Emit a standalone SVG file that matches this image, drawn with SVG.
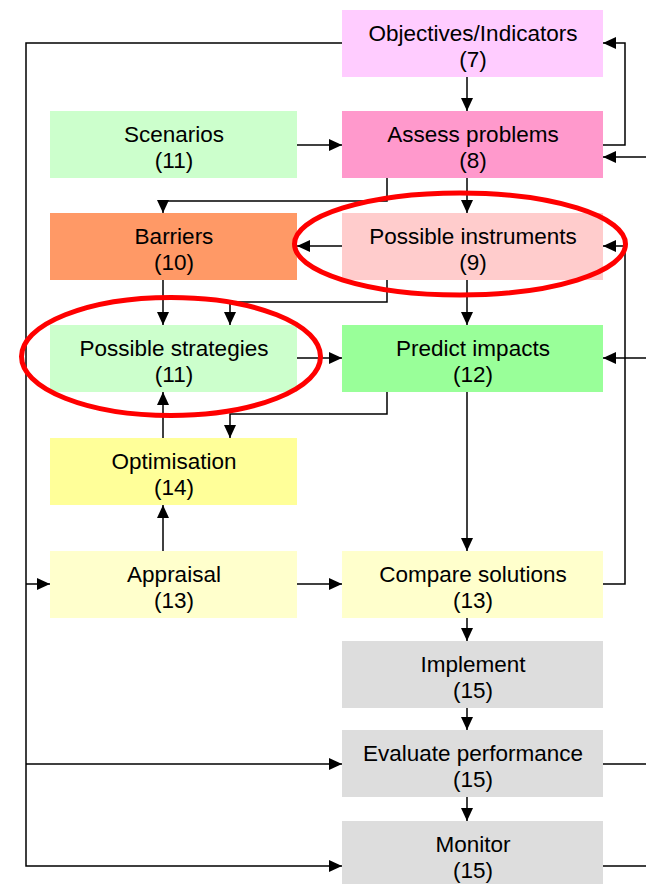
<svg xmlns="http://www.w3.org/2000/svg" width="646" height="884" viewBox="0 0 646 884">
<defs>
<marker id="arr" markerUnits="userSpaceOnUse" markerWidth="13" markerHeight="12" refX="13" refY="6" orient="auto">
<path d="M0,0 L13,6 L0,12 z" fill="#000"/>
</marker>
<style>
.box{stroke:none}
.t{font-family:"Liberation Sans",Arial,sans-serif;font-size:22.5px;fill:#000;text-anchor:middle}
.c{fill:none;stroke:#000;stroke-width:1.5}
.a{marker-end:url(#arr)}
.hl{fill:none;stroke:#ff0000;stroke-width:5}
</style>
</defs>
<rect width="646" height="884" fill="#fff"/>
<g id="connectors">
<path class="c a" d="M342,43 H26 V866 H342"/>
<path class="c a" d="M26,584 H50"/>
<path class="c a" d="M26,764 H342"/>
<path class="c a" d="M467,77 V111"/>
<path class="c a" d="M603,145 H625 V43 H603"/>
<path class="c a" d="M646,157 H603"/>
<path class="c a" d="M297,145 H342"/>
<path class="c a" d="M387,178 V201 H163 V213"/>
<path class="c a" d="M467,178 V213"/>
<path class="c a" d="M342,246 H297"/>
<path class="c a" d="M603,584 H625 V246 H603"/>
<path class="c a" d="M163,280 V325"/>
<path class="c a" d="M387,280 V302 H230 V325"/>
<path class="c a" d="M467,280 V325"/>
<path class="c a" d="M297,358 H342"/>
<path class="c a" d="M646,358 H603"/>
<path class="c a" d="M387,392 V414 H230 V438"/>
<path class="c a" d="M163,438 V392"/>
<path class="c a" d="M163,551 V505"/>
<path class="c a" d="M467,392 V551"/>
<path class="c a" d="M297,584 H342"/>
<path class="c a" d="M467,618 V641"/>
<path class="c a" d="M467,708 V730"/>
<path class="c a" d="M467,797 V821"/>
<path class="c" d="M603,764 H646"/>
<path class="c" d="M603,866 H646"/>
</g>
<g id="objectives"><rect class="box" x="342" y="10" width="261" height="67" fill="#ffccff"/><text class="t" x="473" y="41">Objectives/Indicators</text><text class="t" x="473" y="67">(7)</text></g>
<g id="assess"><rect class="box" x="342" y="111" width="261" height="67" fill="#ff99cc"/><text class="t" x="473" y="142">Assess problems</text><text class="t" x="473" y="168">(8)</text></g>
<g id="scenarios"><rect class="box" x="50" y="111" width="247" height="67" fill="#ccffcc"/><text class="t" x="174" y="142">Scenarios</text><text class="t" x="174" y="168">(11)</text></g>
<g id="barriers"><rect class="box" x="50" y="213" width="247" height="67" fill="#ff9966"/><text class="t" x="174" y="244">Barriers</text><text class="t" x="174" y="270">(10)</text></g>
<g id="instruments"><rect class="box" x="342" y="213" width="261" height="67" fill="#ffcccc"/><text class="t" x="473" y="244">Possible instruments</text><text class="t" x="473" y="270">(9)</text></g>
<g id="strategies"><rect class="box" x="50" y="325" width="247" height="67" fill="#ccffcc"/><text class="t" x="174" y="356">Possible strategies</text><text class="t" x="174" y="382">(11)</text></g>
<g id="predict"><rect class="box" x="342" y="325" width="261" height="67" fill="#99ff99"/><text class="t" x="473" y="356">Predict impacts</text><text class="t" x="473" y="382">(12)</text></g>
<g id="optimisation"><rect class="box" x="50" y="438" width="247" height="67" fill="#ffff99"/><text class="t" x="174" y="469">Optimisation</text><text class="t" x="174" y="495">(14)</text></g>
<g id="appraisal"><rect class="box" x="50" y="551" width="247" height="67" fill="#ffffcc"/><text class="t" x="174" y="582">Appraisal</text><text class="t" x="174" y="608">(13)</text></g>
<g id="compare"><rect class="box" x="342" y="551" width="261" height="67" fill="#ffffcc"/><text class="t" x="473" y="582">Compare solutions</text><text class="t" x="473" y="608">(13)</text></g>
<g id="implement"><rect class="box" x="342" y="641" width="261" height="67" fill="#dddddd"/><text class="t" x="473" y="672">Implement</text><text class="t" x="473" y="698">(15)</text></g>
<g id="evaluate"><rect class="box" x="342" y="730" width="261" height="67" fill="#dddddd"/><text class="t" x="473" y="761">Evaluate performance</text><text class="t" x="473" y="787">(15)</text></g>
<g id="monitor"><rect class="box" x="342" y="821" width="261" height="67" fill="#dddddd"/><text class="t" x="473" y="852">Monitor</text><text class="t" x="473" y="878">(15)</text></g>
<g id="highlights">
<ellipse class="hl" cx="460" cy="244" rx="165.5" ry="51"/>
<ellipse class="hl" cx="171" cy="356.5" rx="149.5" ry="59"/>
</g>
</svg>
